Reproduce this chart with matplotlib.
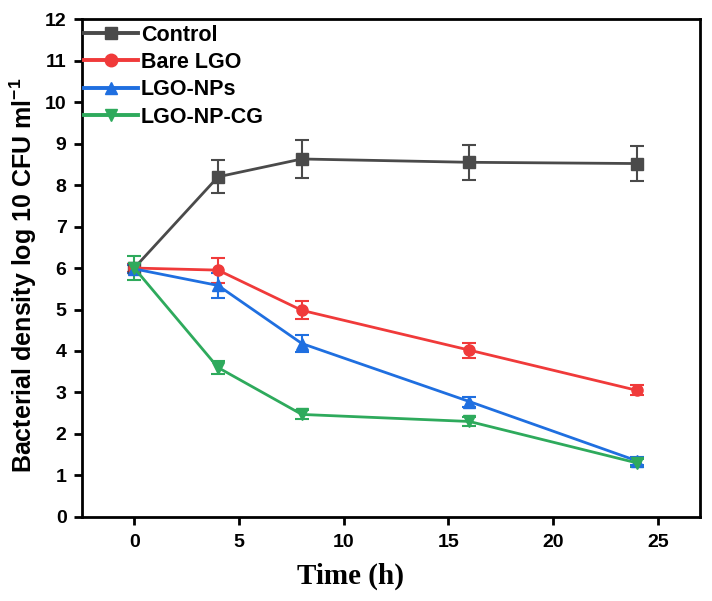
import numpy as np
import matplotlib.pyplot as plt
from matplotlib.lines import Line2D

# ---- data ----
time_h = [0, 4, 8, 16, 24]

control = [6.0, 8.2, 8.63, 8.55, 8.52]
control_err = [0.1, 0.4, 0.45, 0.42, 0.43]

bare_lgo = [6.0, 5.95, 4.98, 4.02, 3.05]
bare_lgo_err = [0.1, 0.3, 0.22, 0.18, 0.12]

lgo_nps = [5.98, 5.58, 4.18, 2.78, 1.35]
lgo_nps_err = [0.1, 0.3, 0.2, 0.12, 0.1]

lgo_np_cg = [6.0, 3.6, 2.47, 2.3, 1.3]
lgo_np_cg_err = [0.3, 0.15, 0.1, 0.1, 0.1]

series = [
    ("Control", control, control_err, "#4a4a4a", "s"),
    ("Bare LGO", bare_lgo, bare_lgo_err, "#f03a3a", "o"),
    ("LGO-NPs", lgo_nps, lgo_nps_err, "#1f6fe0", "^"),
    ("LGO-NP-CG", lgo_np_cg, lgo_np_cg_err, "#2eaa5c", "v"),
]

plt.rcParams['font.family'] = ['Liberation Sans', 'DejaVu Sans']
plt.rcParams['font.weight'] = 'bold'
plt.rcParams['mathtext.fontset'] = 'custom'
plt.rcParams['mathtext.bf'] = 'Liberation Sans:bold'

fig = plt.figure(figsize=(7.12, 6.01), dpi=100)
ax = fig.add_axes([0.115, 0.14, 0.868, 0.828])

handles = []
for name, y, err, col, mk in series:
    ax.errorbar(time_h, y, yerr=err, color=col, marker=mk, markersize=8,
                linewidth=2, elinewidth=1.5, capsize=5, capthick=1.5)
    handles.append(Line2D([], [], color=col, marker=mk, markersize=9, linewidth=2.8, label=name))

ax.set_xlim(-2.5, 27)
ax.set_ylim(0, 12)
ax.set_xticks([0, 5, 10, 15, 20, 25])
ax.set_yticks(range(0, 13))

for s in ax.spines.values():
    s.set_linewidth(2)
ax.tick_params(direction='out', length=6, width=2, labelsize=14)
ax.tick_params(axis='x', pad=6)
ax.tick_params(axis='y', pad=5)
for lab in ax.get_xticklabels() + ax.get_yticklabels():
    lab.set_fontweight('bold')

ax.set_xlabel("Time (h)", fontsize=21, fontweight='bold', family='Liberation Serif')
ax.xaxis.set_label_coords(0.434, -0.092)
ax.set_ylabel("Bacterial density log 10 CFU ml$^{\\mathbf{-1}}$", fontsize=18, fontweight='bold')
ax.yaxis.set_label_coords(-0.07, 0.486)

leg = ax.legend(handles=handles, loc='upper left', bbox_to_anchor=(-0.003, 0.998), frameon=False,
                fontsize=15.5, handlelength=2.5, handletextpad=0.12, borderaxespad=0.0,
                borderpad=0.2, labelspacing=0.3)
for t in leg.get_texts():
    t.set_fontweight('bold')

fig.savefig("out.png", dpi=100)
